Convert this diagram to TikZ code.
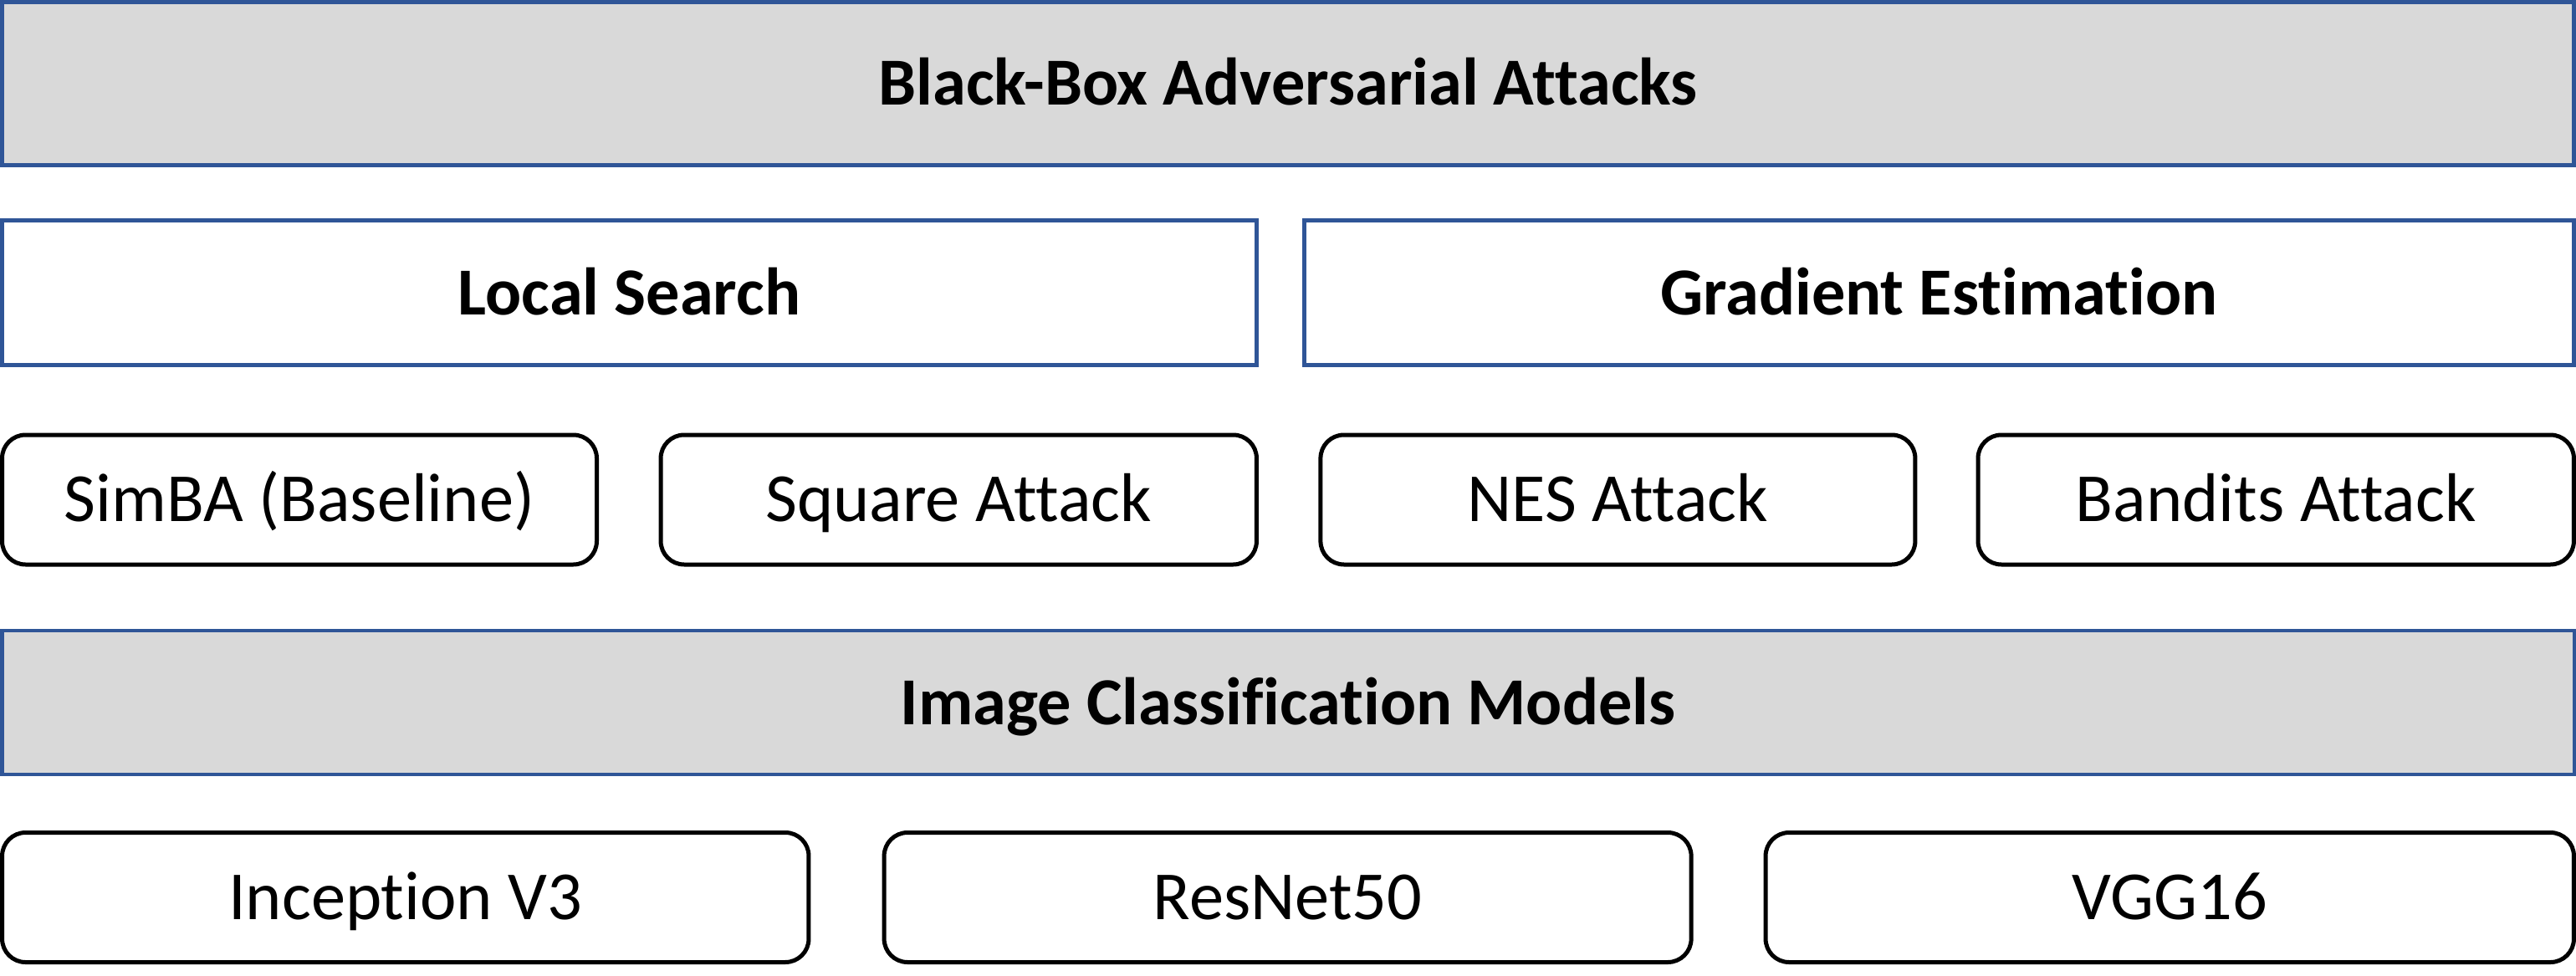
\documentclass[tikz,border=0pt]{standalone}
\usepackage{fontspec}
\setmainfont{Carlito}[RawFeature={-liga;-clig;-dlig}]
\definecolor{boxblue}{HTML}{2F5597}
\definecolor{boxgray}{HTML}{D9D9D9}
\begin{document}
\begin{tikzpicture}[x=1pt,y=-1pt,
  headbox/.style={draw=boxblue, line width=1.25pt, rectangle, inner sep=0pt,
    text height=14pt, text depth=1pt,
    font=\fontsize{20.1}{24}\selectfont\bfseries},
  graybox/.style={headbox, fill=boxgray},
  itembox/.style={draw=black, line width=1.25pt, rectangle, rounded corners=7pt,
    inner sep=0pt, minimum height=38.75pt, text height=14pt, text depth=1pt,
    font=\fontsize{20.6}{24}\selectfont}]
\useasboundingbox (0,0) rectangle (770,291.5);
\node[graybox, minimum width=768.75pt, minimum height=48.75pt] (top) at (385,25) {Black-Box Adversarial Attacks};
\node[headbox, minimum width=375pt, minimum height=43.25pt] (local) at (188.125,87.5) {Local Search};
\node[headbox, minimum width=379.6pt, minimum height=43.25pt] (grad) at (579.56,87.5) {Gradient Estimation};
\node[itembox, minimum width=177.75pt] (simba) at (89.5,149.375) {SimBA (Baseline)};
\node[itembox, minimum width=178.1pt] (square) at (286.56,149.375) {Square Attack};
\node[itembox, minimum width=177.75pt] (nes) at (483.6,149.375) {NES Attack};
\node[itembox, minimum width=178.1pt] (bandits) at (680.3,149.375) {Bandits Attack};
\node[graybox, line width=1pt, minimum width=768.75pt, minimum height=43pt] (models) at (385,210) {Image Classification Models};
\node[itembox, minimum width=241.1pt] (inception) at (121.19,268.25) {Inception V3};
\node[itembox, minimum width=241.25pt] (resnet) at (384.9,268.25) {ResNet50};
\node[itembox, minimum width=241.6pt] (vgg) at (648.56,268.25) {VGG16};
\end{tikzpicture}
\end{document}
